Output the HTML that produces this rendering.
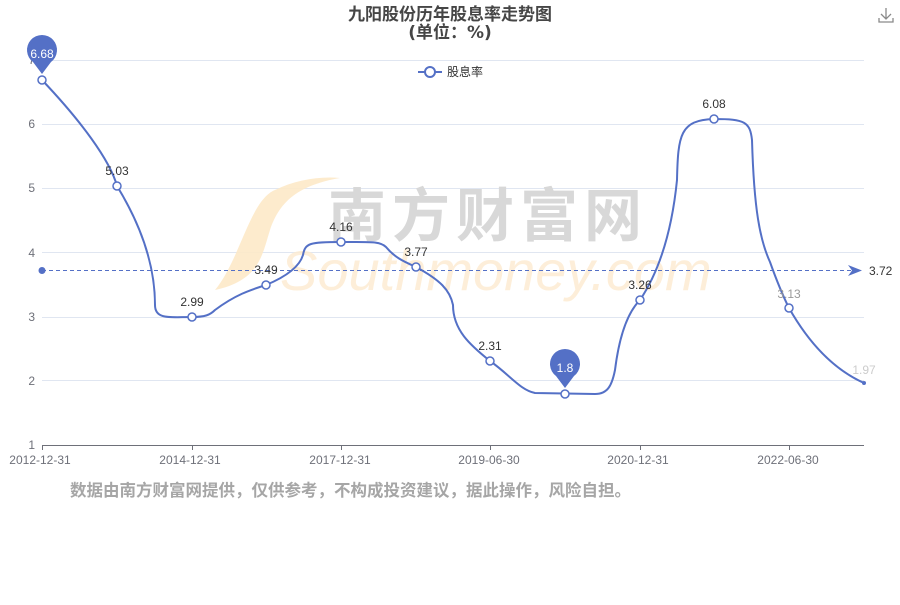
<!DOCTYPE html>
<html><head><meta charset="utf-8"><style>
body{margin:0;background:#fff}
svg text{font-family:"Liberation Sans","Noto Sans CJK SC",sans-serif}
</style></head><body>
<svg width="900" height="600" viewBox="0 0 900 600" xmlns="http://www.w3.org/2000/svg">
<g stroke="#e0e6f1" stroke-width="1">
<line x1="42" y1="60.5" x2="864" y2="60.5"/>
<line x1="42" y1="124.5" x2="864" y2="124.5"/>
<line x1="42" y1="188.5" x2="864" y2="188.5"/>
<line x1="42" y1="252.5" x2="864" y2="252.5"/>
<line x1="42" y1="317.5" x2="864" y2="317.5"/>
<line x1="42" y1="380.5" x2="864" y2="380.5"/>
</g>
<!-- watermark -->
<path d="M215,290 C240,260 250,200 275,190 C295,180 320,176 340,178 C300,185 280,200 270,230 C262,255 260,280 215,290 Z" fill="#fde9c8" opacity="0.9"/>
<text x="328" y="236" font-size="58" fill="#d8d8d8" font-weight="bold" letter-spacing="6">南方财富网</text>
<text x="280" y="290" font-size="56" fill="#fdebd0" font-style="italic" font-family="Liberation Serif,serif" opacity="0.8">Southmoney.com</text>
<line x1="42" y1="445.5" x2="864" y2="445.5" stroke="#6e7079"/>
<g stroke="#6e7079">
<line x1="42.5" y1="445" x2="42.5" y2="450"/><line x1="192.5" y1="445" x2="192.5" y2="450"/>
<line x1="341.5" y1="445" x2="341.5" y2="450"/><line x1="490.5" y1="445" x2="490.5" y2="450"/>
<line x1="640.5" y1="445" x2="640.5" y2="450"/><line x1="789.5" y1="445" x2="789.5" y2="450"/>
</g>
<g font-size="12" fill="#6e7079" text-anchor="end">
<text x="35" y="449">1</text><text x="35" y="385">2</text><text x="35" y="321">3</text>
<text x="35" y="257">4</text><text x="35" y="192">5</text><text x="35" y="128">6</text><text x="35" y="64">7</text>
</g>
<g font-size="12" fill="#6e7079" text-anchor="middle">
<text x="40" y="464">2012-12-31</text><text x="190" y="464">2014-12-31</text>
<text x="340" y="464">2017-12-31</text><text x="489" y="464">2019-06-30</text>
<text x="638" y="464">2020-12-31</text><text x="788" y="464">2022-06-30</text>
</g>
<text x="70" y="496" font-size="16.5" fill="#a6a6a6" font-weight="bold">数据由南方财富网提供，仅供参考，不构成投资建议，据此操作，风险自担。</text>
<text x="450" y="20" font-size="17" font-weight="bold" fill="#464646" text-anchor="middle" style="font-family:'DejaVu Sans','Noto Sans CJK SC',sans-serif">九阳股份历年股息率走势图</text>
<text x="450" y="38" font-size="17" font-weight="bold" fill="#464646" text-anchor="middle" style="font-family:'DejaVu Sans','Noto Sans CJK SC',sans-serif">(单位：%)</text>
<line x1="418" y1="72" x2="442" y2="72" stroke="#5470c6" stroke-width="2"/>
<circle cx="430" cy="72" r="5" fill="#fff" stroke="#5470c6" stroke-width="2"/>
<text x="447" y="76" font-size="12" fill="#333">股息率</text>
<g fill="none" stroke="#8a8a8a" stroke-width="1.3"><path d="M886,8 V19 M881,14 L886,19 L891,14 M879,18 V22 H893 V18"/></g>
<line x1="42" y1="270.5" x2="852" y2="270.5" stroke="#5470c6" stroke-dasharray="4,3"/>
<circle cx="42" cy="270.5" r="3.5" fill="#5470c6"/>
<path d="M848,265 L862,270.5 L848,276 L852,270.5 Z" fill="#5470c6"/>
<text x="869" y="275" font-size="12" fill="#333">3.72</text>
<path d="M42,80 C80,120 110,160 117,186 C150,240 155,280 155,305 C155,320 170,317 192,317 C205,317 210,315 215,310 C235,295 250,290 266,285 C290,275 300,265 303,255 C305,243 310,242 341,242 C370,242 380,241 386,247 C395,258 405,262 416,267 C440,280 450,290 453,305 C453,330 470,345 490,361 C510,375 520,390 535,393 L595,394 C608,394 612,385 615,370 C620,330 630,310 640,300 C660,270 672,230 677,180 C678,135 680,120 714,119 C745,119 750,122 752,140 C754,210 760,240 770,262 C780,290 785,300 789,308 C810,345 835,370 864,383" fill="none" stroke="#5470c6" stroke-width="2"/>
<g fill="#fff" stroke="#5470c6" stroke-width="1.5">
<circle cx="42" cy="80" r="4"/><circle cx="117" cy="186" r="4"/><circle cx="192" cy="317" r="4"/>
<circle cx="266" cy="285" r="4"/><circle cx="341" cy="242" r="4"/><circle cx="416" cy="267" r="4"/>
<circle cx="490" cy="361" r="4"/><circle cx="565" cy="394" r="4"/><circle cx="640" cy="300" r="4"/>
<circle cx="714" cy="119" r="4"/><circle cx="789" cy="308" r="4"/>
</g>
<circle cx="864" cy="383" r="2" fill="#5470c6"/>
<g font-size="12" fill="#333" text-anchor="middle">
<text x="117" y="175">5.03</text><text x="192" y="306">2.99</text><text x="266" y="274">3.49</text>
<text x="341" y="231">4.16</text><text x="416" y="256">3.77</text><text x="490" y="350">2.31</text>
<text x="640" y="289">3.26</text><text x="714" y="108">6.08</text>
<text x="789" y="298" fill="#999">3.13</text><text x="864" y="374" fill="#ccc">1.97</text>
</g>
<path d="M42,74 L33,62 A15,15 0 1 1 51,62 Z" fill="#5470c6"/>
<text x="42" y="58" font-size="12" fill="#fff" text-anchor="middle">6.68</text>
<path d="M565,388 L556,376 A15,15 0 1 1 574,376 Z" fill="#5470c6"/>
<text x="565" y="372" font-size="12" fill="#fff" text-anchor="middle">1.8</text>
</svg>
</body></html>
